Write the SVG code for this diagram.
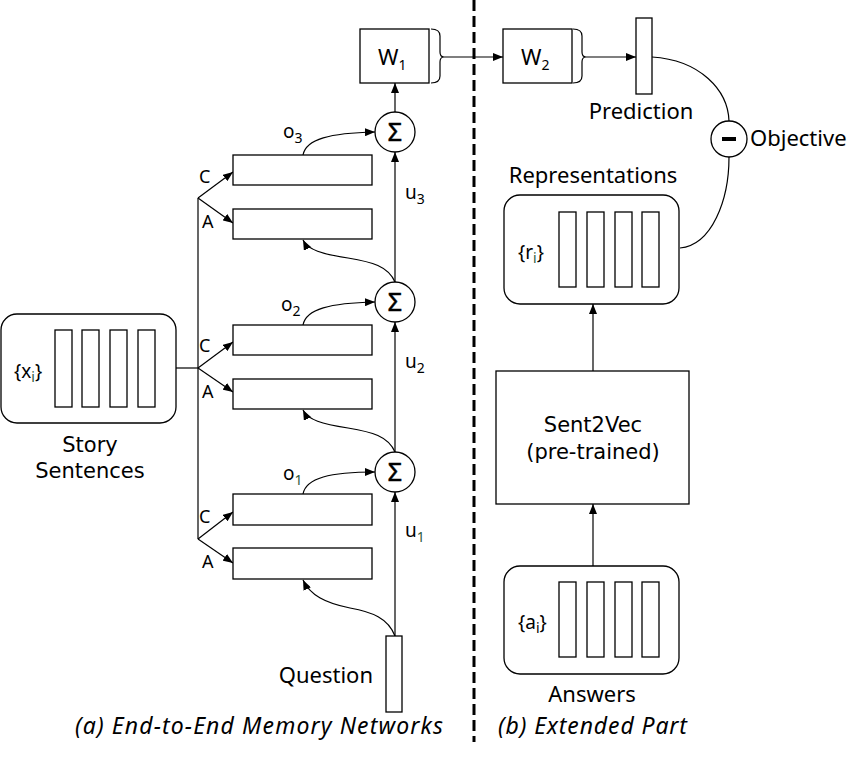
<svg xmlns="http://www.w3.org/2000/svg" width="866" height="757" viewBox="0 0 866 757">
<style>
.box{fill:#fff;stroke:#000;stroke-width:1.3}
.ln{fill:none;stroke:#000;stroke-width:1.2}
.t{font-family:"Noto Sans","Liberation Sans",sans-serif;font-size:22px;fill:#000}
.t2{font-family:"DejaVu Sans","Liberation Sans",sans-serif;font-size:21px;fill:#000}
.sig{font-family:"Noto Sans","Liberation Sans",sans-serif;font-size:25px;fill:#000;stroke:#000;stroke-width:0.5}
.lab{font-family:"Noto Sans","Liberation Sans",sans-serif;font-size:18px;fill:#000}
.sym{font-family:"Noto Sans","Liberation Sans",sans-serif;font-size:19px;fill:#000}
.sub{font-size:14px}
.g{fill:#2f5a3c}
.it{font-family:"Noto Sans","Liberation Sans",sans-serif;font-size:23px;font-style:italic;fill:#000}
</style>
<defs>
<marker id="ah" viewBox="0 0 10 8" refX="10" refY="4" markerWidth="10" markerHeight="8" markerUnits="userSpaceOnUse" orient="auto">
<path d="M0,0 L10,4 L0,8 Z" fill="#000"/>
</marker>
</defs>
<rect width="866" height="757" fill="#fff"/>

<!-- divider -->
<line x1="474" y1="0" x2="474" y2="742" stroke="#000" stroke-width="3" stroke-dasharray="11,5"/>

<g id="connectors" class="ln">
  <line x1="176" y1="368" x2="198" y2="368"/>
  <line x1="198" y1="198" x2="198" y2="539"/>
  <line x1="198" y1="198" x2="233" y2="172" marker-end="url(#ah)"/>
  <line x1="198" y1="198" x2="233" y2="223" marker-end="url(#ah)"/>
  <line x1="198" y1="368" x2="233" y2="342" marker-end="url(#ah)"/>
  <line x1="198" y1="368" x2="233" y2="392" marker-end="url(#ah)"/>
  <line x1="198" y1="539" x2="233" y2="512" marker-end="url(#ah)"/>
  <line x1="198" y1="539" x2="233" y2="563" marker-end="url(#ah)"/>
  <line x1="395" y1="636" x2="395" y2="492" marker-end="url(#ah)"/>
  <line x1="395" y1="452" x2="395" y2="322" marker-end="url(#ah)"/>
  <line x1="395" y1="282" x2="395" y2="152" marker-end="url(#ah)"/>
  <line x1="395" y1="112" x2="395" y2="83" marker-end="url(#ah)"/>
  <path d="M303,155 C306,139 330,133 375,132" marker-end="url(#ah)"/>
  <path d="M303,325 C306,309 330,303 375,302" marker-end="url(#ah)"/>
  <path d="M303,494 C306,478 330,472 375,472" marker-end="url(#ah)"/>
  <path d="M395,282 C388,266 372,262 348,258 C322,254 308,250 303,240" marker-end="url(#ah)"/>
  <path d="M395,452 C388,436 372,432 348,428 C322,424 308,420 303,410" marker-end="url(#ah)"/>
  <path d="M395,636 C388,618 372,612 350,608 C325,603 310,595 303,580" marker-end="url(#ah)"/>
  <path d="M431,29 Q440,29 440,36 L440,52 Q440,57 444,57 Q440,57 440,62 L440,76 Q440,83 431,83"/>
  <line x1="444" y1="57" x2="503" y2="57" marker-end="url(#ah)"/>
  <path d="M573,29 Q582,29 582,36 L582,52 Q582,57 586,57 Q582,57 582,62 L582,76 Q582,83 573,83"/>
  <line x1="586" y1="57" x2="636" y2="57" marker-end="url(#ah)"/>
  <path d="M652,57 C700,60 728,90 729,121"/>
  <path d="M729,157 C729,200 712,245 680,248"/>
  <line x1="593" y1="371" x2="593" y2="304" marker-end="url(#ah)"/>
  <line x1="593" y1="566" x2="593" y2="504" marker-end="url(#ah)"/>
</g>

<g id="story">
  <rect class="box" x="1" y="314" width="175" height="109" rx="16"/>
  <rect class="box" x="55" y="330" width="17" height="77"/>
  <rect class="box" x="82" y="330" width="17" height="77"/>
  <rect class="box" x="110" y="330" width="17" height="77"/>
  <rect class="box" x="138" y="330" width="17" height="77"/>
  <text class="sym" x="14" y="378">{x<tspan class="sub g" dy="4">i</tspan><tspan dy="-4">}</tspan></text>
  <text class="t2" x="90" y="452" text-anchor="middle">Story</text>
  <text class="t2" x="90" y="478" text-anchor="middle">Sentences</text>
</g>

<g id="hop3">
  <rect class="box" x="233" y="155" width="139" height="30"/>
  <rect class="box" x="233" y="209" width="139" height="30"/>
  <text class="lab" x="199" y="183">C</text>
  <text class="lab" x="202" y="228">A</text>
  <text class="sym" x="283" y="138">o<tspan class="sub" dy="5">3</tspan></text>
  <text class="sym" x="405" y="199">u<tspan class="sub" dy="5">3</tspan></text>
  <circle class="box" cx="395" cy="132" r="20"/>
  <text class="sig" x="395" y="141" text-anchor="middle">Σ</text>
</g>

<g id="hop2">
  <rect class="box" x="233" y="325" width="139" height="30"/>
  <rect class="box" x="233" y="379" width="139" height="30"/>
  <text class="lab" x="199" y="352">C</text>
  <text class="lab" x="202" y="398">A</text>
  <text class="sym" x="281" y="311">o<tspan class="sub" dy="5">2</tspan></text>
  <text class="sym" x="405" y="368">u<tspan class="sub" dy="5">2</tspan></text>
  <circle class="box" cx="395" cy="302" r="20"/>
  <text class="sig" x="395" y="311" text-anchor="middle">Σ</text>
</g>

<g id="hop1">
  <rect class="box" x="233" y="494" width="139" height="31"/>
  <rect class="box" x="233" y="548" width="139" height="31"/>
  <text class="lab" x="199" y="523">C</text>
  <text class="lab" x="202" y="568">A</text>
  <text class="sym" x="283" y="480">o<tspan class="sub g" dy="5">1</tspan></text>
  <text class="sym" x="405" y="537">u<tspan class="sub g" dy="5">1</tspan></text>
  <circle class="box" cx="395" cy="472" r="20"/>
  <text class="sig" x="395" y="481" text-anchor="middle">Σ</text>
</g>

<g id="question">
  <rect class="box" x="386" y="636" width="16" height="76"/>
  <text class="t" x="373" y="683" text-anchor="end">Question</text>
</g>

<g id="w1">
  <rect class="box" x="360" y="29" width="69" height="54"/>
  <text class="t" x="378" y="65">W<tspan class="sub" font-size="15" dy="5">1</tspan></text>
</g>

<g id="w2">
  <rect class="box" x="503" y="29" width="69" height="54"/>
  <text class="t" x="521" y="65">W<tspan class="sub" font-size="15" dy="5">2</tspan></text>
</g>

<g id="prediction">
  <rect class="box" x="636" y="18" width="16" height="76"/>
  <text class="t" x="641" y="119" text-anchor="middle">Prediction</text>
</g>

<g id="objective">
  <circle class="box" cx="729" cy="139" r="18"/>
  <rect x="722" y="137" width="14" height="4" fill="#000"/>
  <text class="t" x="750" y="146">Objective</text>
</g>

<g id="representations">
  <text class="t" x="593" y="183" text-anchor="middle">Representations</text>
  <rect class="box" x="504" y="195" width="175" height="109" rx="16"/>
  <rect class="box" x="559" y="212" width="17" height="75"/>
  <rect class="box" x="587" y="212" width="17" height="75"/>
  <rect class="box" x="615" y="212" width="17" height="75"/>
  <rect class="box" x="642" y="212" width="17" height="75"/>
  <text class="sym" x="518" y="259">{r<tspan class="sub g" dy="4">i</tspan><tspan dy="-4">}</tspan></text>
</g>

<g id="sent2vec">
  <rect class="box" x="496" y="371" width="193" height="133"/>
  <text class="t2" x="593" y="432" text-anchor="middle">Sent2Vec</text>
  <text class="t2" x="593" y="459" text-anchor="middle">(pre-trained)</text>
</g>

<g id="answers">
  <rect class="box" x="504" y="566" width="175" height="108" rx="16"/>
  <rect class="box" x="559" y="582" width="17" height="75"/>
  <rect class="box" x="587" y="582" width="17" height="75"/>
  <rect class="box" x="615" y="582" width="17" height="75"/>
  <rect class="box" x="642" y="582" width="17" height="75"/>
  <text class="sym" x="518" y="629">{a<tspan class="sub" dy="4">i</tspan><tspan dy="-4">}</tspan></text>
  <text class="t" x="592" y="702" text-anchor="middle">Answers</text>
</g>

<g id="titles">
  <text class="it" x="75" y="734" textLength="368" lengthAdjust="spacing">(a) End-to-End Memory Networks</text>
  <text class="it" x="498" y="734" textLength="189" lengthAdjust="spacing">(b) Extended Part</text>
</g>
</svg>
